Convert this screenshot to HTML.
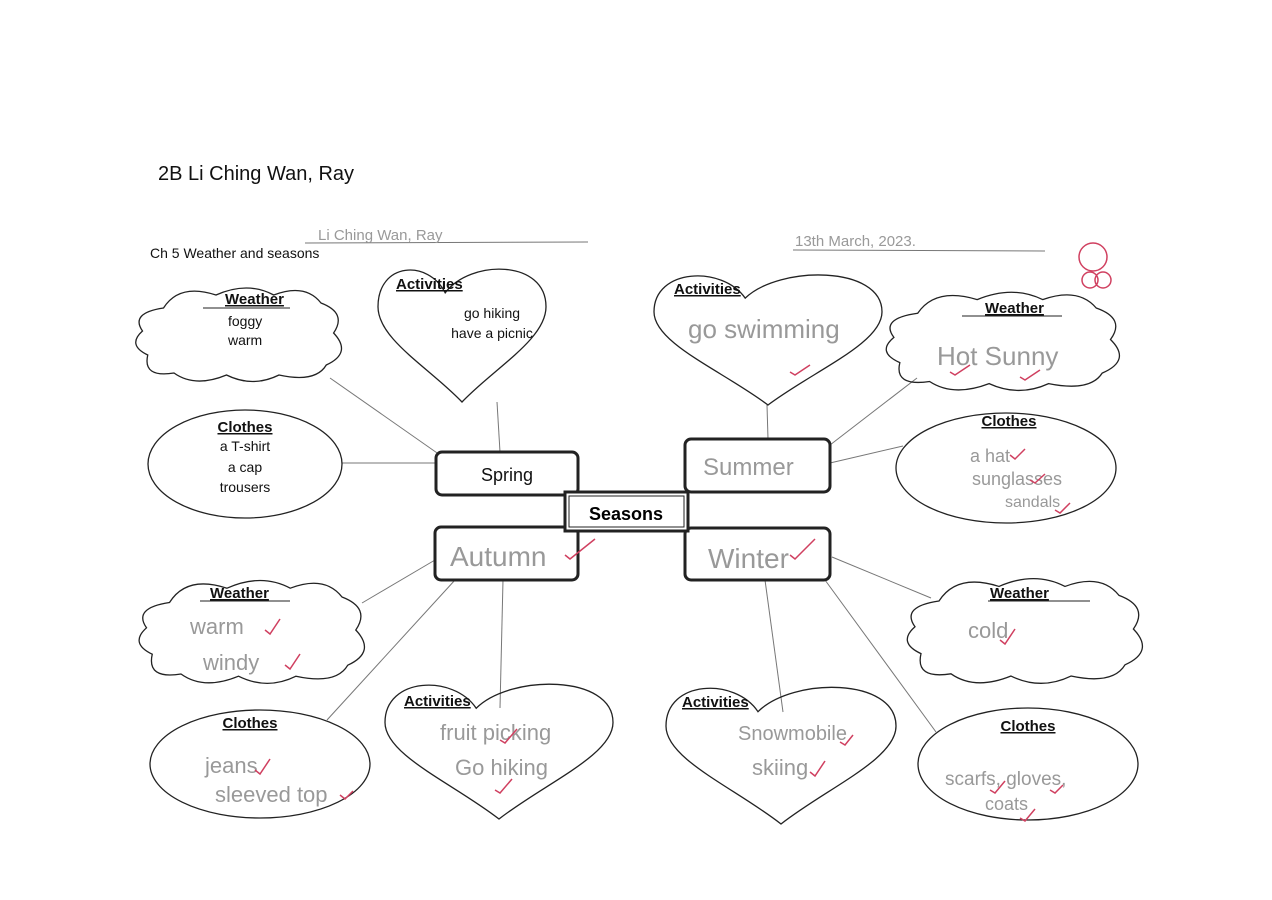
<!DOCTYPE html>
<html><head><meta charset="utf-8"><style>
html,body{margin:0;padding:0;background:#fff;}
svg{display:block}
.h{font-family:"Liberation Sans",sans-serif;font-weight:bold;font-size:15px;fill:#111;text-decoration:underline}
.t{font-family:"Liberation Sans",sans-serif;font-size:14px;fill:#111}
.w{font-family:"Liberation Sans",sans-serif;font-size:22px;fill:#999;font-weight:300}
.s{fill:none;stroke:#222;stroke-width:1.3}
.l{stroke:#777;stroke-width:1;fill:none}
.ck{stroke:#d04060;stroke-width:1.5;fill:none}
</style></head><body>
<svg width="1272" height="900" viewBox="0 0 1272 900" xmlns="http://www.w3.org/2000/svg">
<defs>
<path id="cloud" vector-effect="non-scaling-stroke" d="M30,25 Q45,0 80,12 Q110,-2 135,12 Q165,0 180,20 Q205,30 192,50 Q210,70 185,82 Q175,100 140,92 Q115,105 90,92 Q60,105 40,90 Q10,95 15,72 Q-5,62 10,48 Q-2,30 30,25 Z"/>
<path id="heart" vector-effect="non-scaling-stroke" d="M40,22 C30,-2 0,0 0,32 C0,55 30,75 50,100 C70,75 100,55 100,32 C100,-2 55,-2 40,22 Z"/>
</defs>
<text x="158" y="180" font-family="Liberation Sans,sans-serif" font-size="20" fill="#111">2B Li Ching Wan, Ray</text>
<text x="150" y="258" class="t" style="font-size:14px">Ch 5 Weather and seasons</text>
<line x1="305" y1="243" x2="588" y2="242" class="l"/>
<text x="318" y="240" class="w" style="font-size:15px">Li Ching Wan, Ray</text>
<line x1="793" y1="250" x2="1045" y2="251" class="l"/>
<text x="795" y="246" class="w" style="font-size:15px">13th March, 2023.</text>
<g stroke="#d04060" fill="none" stroke-width="1.5"><circle cx="1093" cy="257" r="14"/><circle cx="1090" cy="280" r="8"/><circle cx="1103" cy="280" r="8"/></g>

<g class="l">
<line x1="330" y1="378" x2="440" y2="455"/><line x1="342" y1="463" x2="436" y2="463"/><line x1="497" y1="402" x2="500" y2="452"/>
<line x1="767" y1="405" x2="768" y2="439"/><line x1="917" y1="378" x2="830" y2="445"/><line x1="903" y1="446" x2="830" y2="463"/>
<line x1="435" y1="560" x2="362" y2="603"/><line x1="455" y1="580" x2="327" y2="720"/><line x1="503" y1="580" x2="500" y2="708"/>
<line x1="765" y1="580" x2="783" y2="712"/><line x1="825" y1="580" x2="936" y2="732"/><line x1="832" y1="557" x2="931" y2="598"/>
</g>

<use href="#cloud" class="s" transform="translate(132,283) scale(1.05,1.0)"/>
<text x="225" y="304" class="h">Weather</text><line x1="203" y1="308" x2="290" y2="308" stroke="#222"/>
<text x="228" y="326" class="t">foggy</text><text x="228" y="345" class="t">warm</text>
<use href="#heart" class="s" transform="translate(378,262) scale(1.68,1.40)"/>
<text x="396" y="289" class="h">Activities</text>
<text x="492" y="318" class="t" text-anchor="middle">go hiking</text><text x="492" y="338" class="t" text-anchor="middle">have a picnic</text>
<ellipse cx="245" cy="464" rx="97" ry="54" class="s"/>
<text x="245" y="432" class="h" text-anchor="middle">Clothes</text>
<text x="245" y="451" class="t" text-anchor="middle">a T-shirt</text><text x="245" y="472" class="t" text-anchor="middle">a cap</text><text x="245" y="492" class="t" text-anchor="middle">trousers</text>

<use href="#heart" class="s" transform="translate(654,268) scale(2.28,1.37)"/>
<text x="674" y="294" class="h">Activities</text>
<text x="688" y="338" class="w" style="font-size:26px">go swimming</text>
<use href="#cloud" class="s" transform="translate(882,287) scale(1.19,1.05)"/>
<text x="985" y="313" class="h">Weather</text><line x1="962" y1="316" x2="1062" y2="316" stroke="#222"/>
<text x="937" y="365" class="w" style="font-size:26px">Hot Sunny</text>
<ellipse cx="1006" cy="468" rx="110" ry="55" class="s"/>
<text x="1009" y="426" class="h" text-anchor="middle">Clothes</text>
<text x="970" y="462" class="w" style="font-size:18px">a hat</text>
<text x="972" y="485" class="w" style="font-size:18px">sunglasses</text>
<text x="1005" y="507" class="w" style="font-size:16px">sandals</text>

<rect x="436" y="452" width="142" height="43" rx="6" fill="#fff" stroke="#222" stroke-width="3"/>
<text x="507" y="481" class="t" style="font-size:18px" text-anchor="middle">Spring</text>
<rect x="685" y="439" width="145" height="53" rx="6" fill="#fff" stroke="#222" stroke-width="3"/>
<text x="703" y="475" class="w" style="font-size:24px">Summer</text>
<rect x="435" y="527" width="143" height="53" rx="6" fill="#fff" stroke="#222" stroke-width="3"/>
<text x="450" y="566" class="w" style="font-size:28px">Autumn</text>
<rect x="685" y="528" width="145" height="52" rx="6" fill="#fff" stroke="#222" stroke-width="3"/>
<text x="708" y="568" class="w" style="font-size:28px">Winter</text>
<rect x="565" y="492" width="123" height="39" fill="#fff" stroke="#222" stroke-width="3"/>
<rect x="569" y="496" width="115" height="31" fill="none" stroke="#222" stroke-width="1"/>
<text x="626" y="520" font-family="Liberation Sans,sans-serif" font-weight="bold" font-size="18" text-anchor="middle">Seasons</text>

<use href="#cloud" class="s" transform="translate(135,575) scale(1.15,1.1)"/>
<text x="210" y="598" class="h">Weather</text><line x1="200" y1="601" x2="290" y2="601" stroke="#222"/>
<text x="190" y="634" class="w">warm</text><text x="203" y="670" class="w">windy</text>
<ellipse cx="260" cy="764" rx="110" ry="54" class="s"/>
<text x="250" y="728" class="h" text-anchor="middle">Clothes</text>
<text x="205" y="773" class="w">jeans</text><text x="215" y="802" class="w">sleeved top</text>
<use href="#heart" class="s" transform="translate(385,677) scale(2.28,1.42)"/>
<text x="404" y="706" class="h">Activities</text>
<text x="440" y="740" class="w">fruit picking</text><text x="455" y="775" class="w">Go hiking</text>

<use href="#cloud" class="s" transform="translate(903,573) scale(1.2,1.12)"/>
<text x="990" y="598" class="h">Weather</text><line x1="988" y1="601" x2="1090" y2="601" stroke="#222"/>
<text x="968" y="638" class="w">cold</text>
<use href="#heart" class="s" transform="translate(666,680) scale(2.3,1.44)"/>
<text x="682" y="707" class="h">Activities</text>
<text x="738" y="740" class="w" style="font-size:20px">Snowmobile</text><text x="752" y="775" class="w">skiing</text>
<ellipse cx="1028" cy="764" rx="110" ry="56" class="s"/>
<text x="1028" y="731" class="h" text-anchor="middle">Clothes</text>
<text x="945" y="785" class="w" style="font-size:19px">scarfs, gloves,</text><text x="985" y="810" class="w" style="font-size:18px">coats</text>

<g class="ck">
<path d="M1010,455 l5,4 l10,-10"/><path d="M1030,480 l5,3 l10,-9"/><path d="M1055,510 l5,3 l10,-10"/>
<path d="M565,555 l5,4 l25,-20"/><path d="M790,555 l5,4 l20,-20"/>
<path d="M265,630 l5,4 l10,-15"/><path d="M285,665 l5,4 l10,-15"/>
<path d="M255,770 l5,4 l10,-15"/><path d="M340,795 l5,4 l8,-8"/>
<path d="M1000,640 l5,4 l10,-15"/><path d="M810,772 l5,4 l10,-15"/><path d="M840,742 l5,3 l8,-10"/>
<path d="M1050,790 l5,3 l8,-8"/><path d="M1020,818 l5,3 l10,-12"/><path d="M990,790 l5,3 l10,-12"/>
<path d="M500,740 l5,3 l12,-14"/><path d="M495,790 l5,3 l12,-14"/>
<path d="M950,372 l5,3 l15,-10"/><path d="M1020,377 l5,3 l15,-10"/><path d="M790,372 l5,3 l15,-10"/>
</g>
</svg>
</body></html>
